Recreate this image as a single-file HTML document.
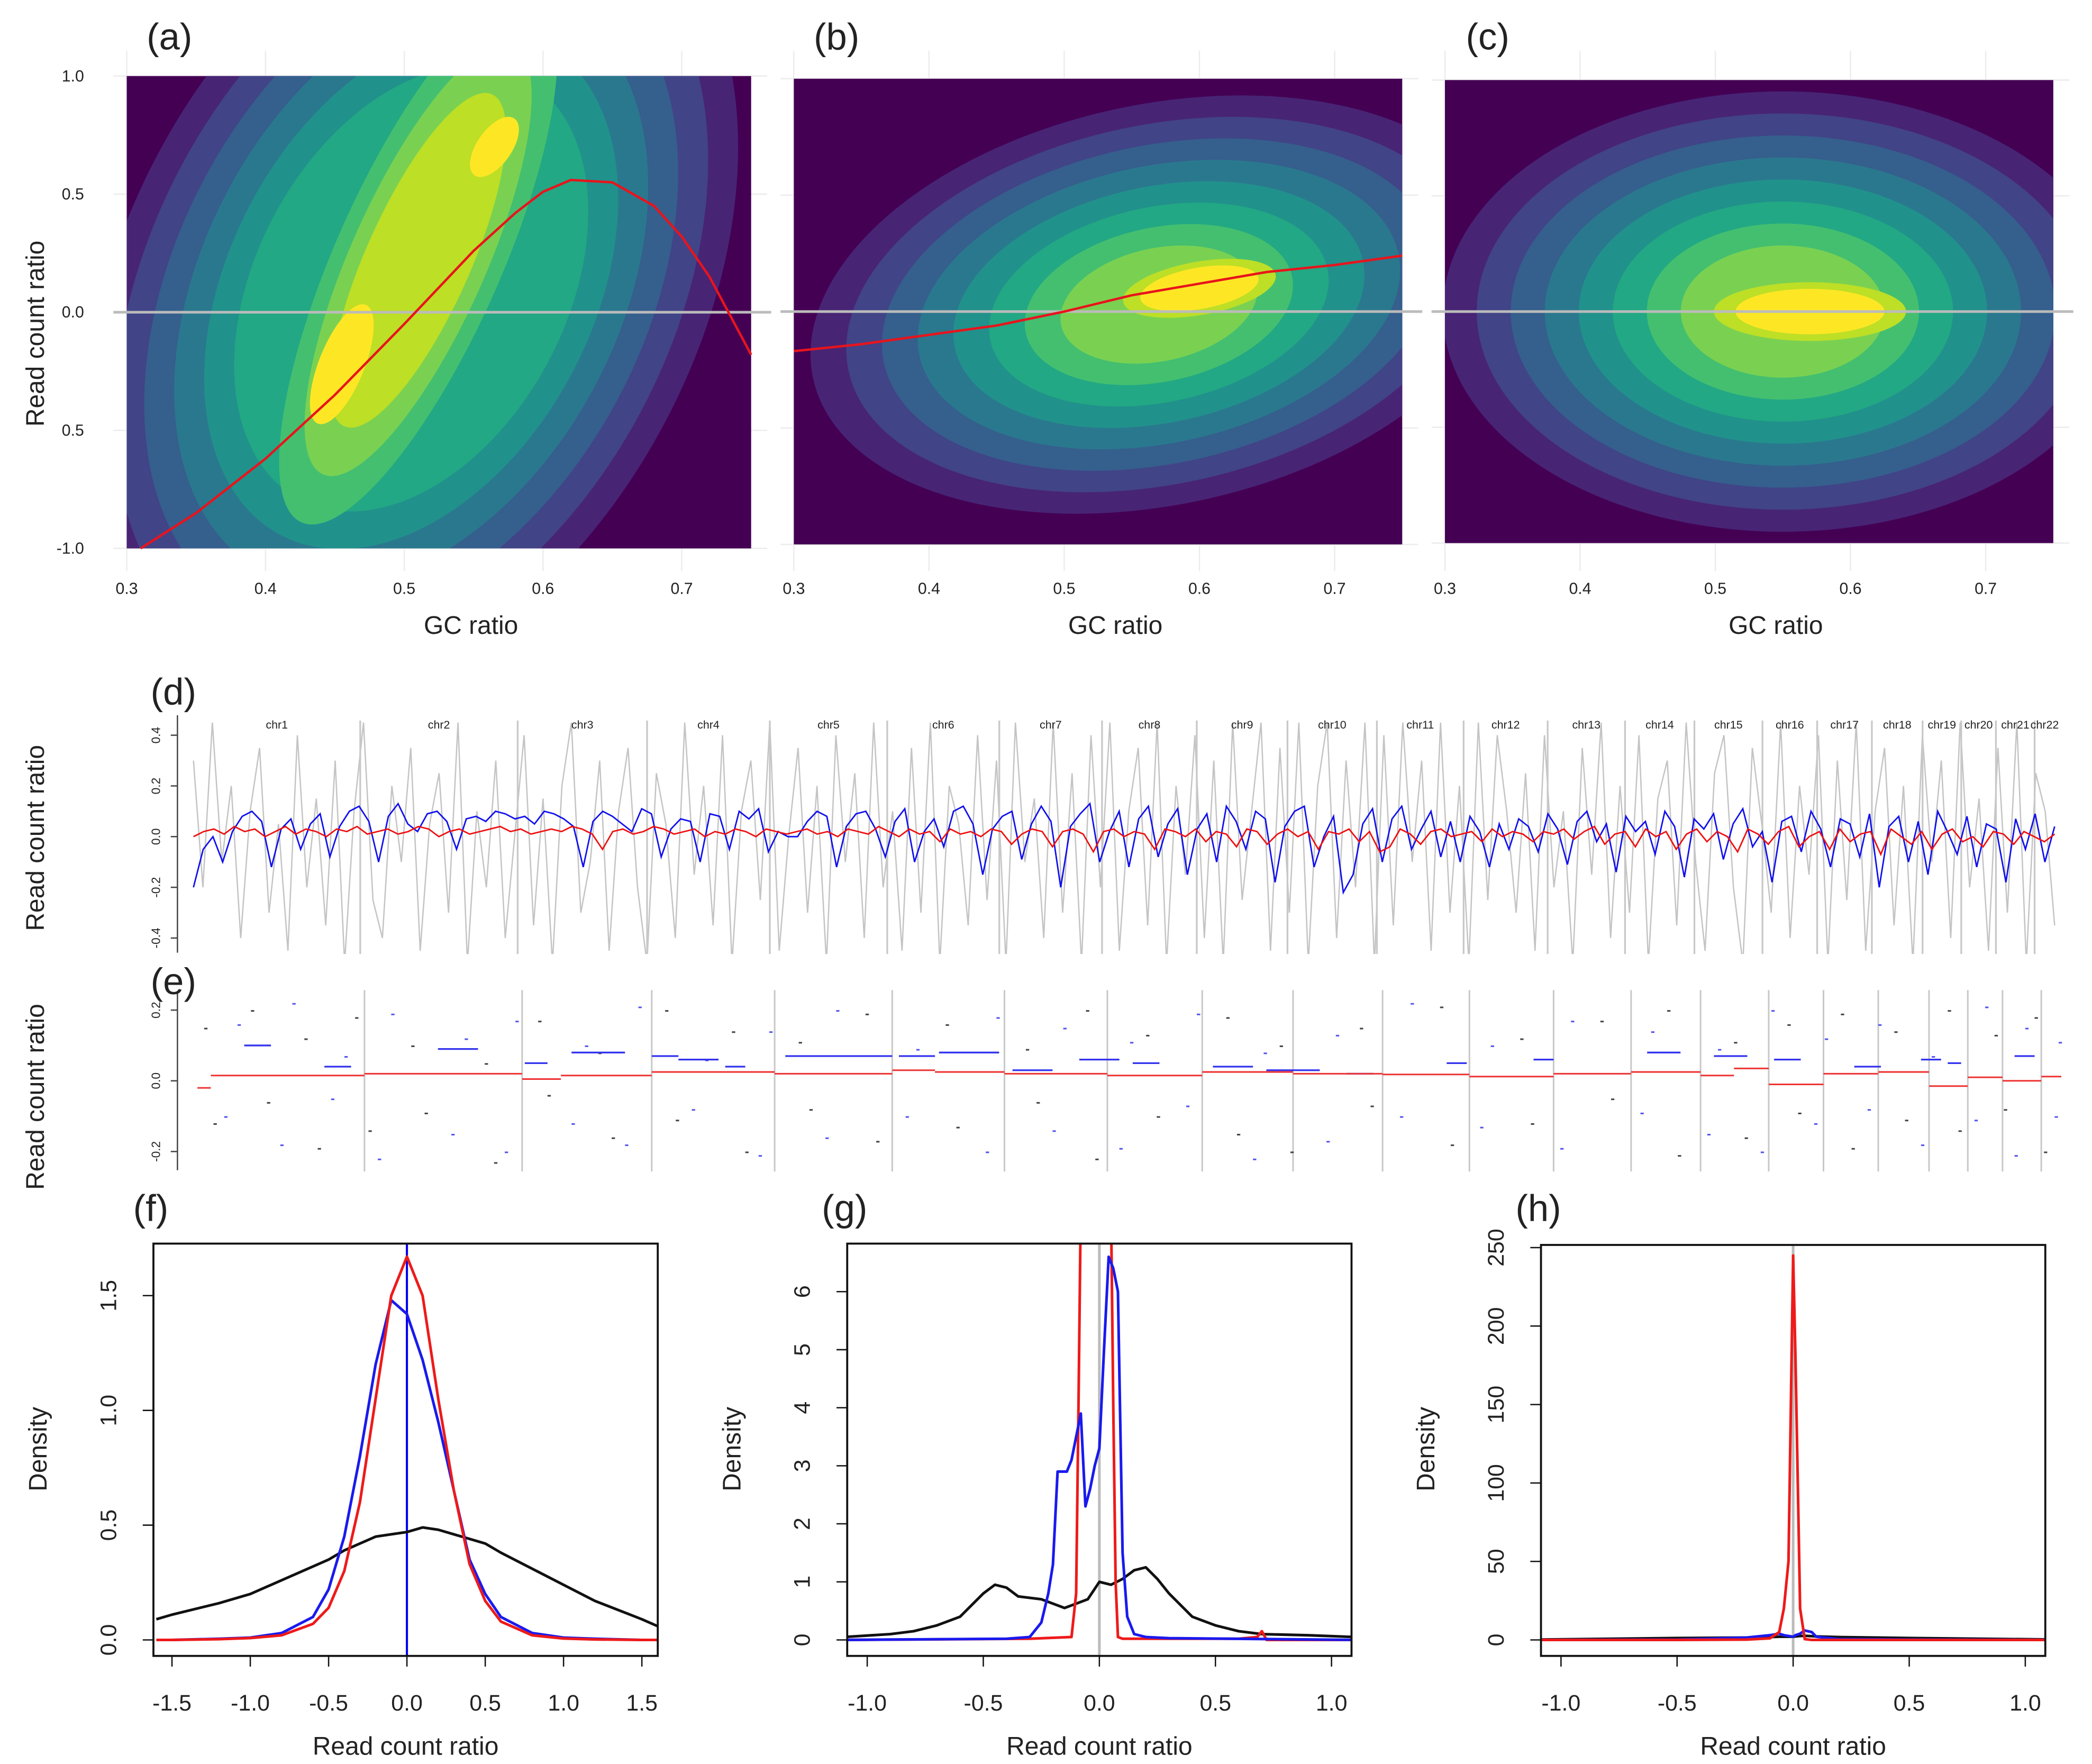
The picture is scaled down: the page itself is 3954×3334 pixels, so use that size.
<!DOCTYPE html>
<html><head><meta charset="utf-8"><style>
html,body{margin:0;padding:0;background:#fff;}
svg{display:block;}
text{font-family:"Liberation Sans",sans-serif;}
</style></head><body>
<svg id="fig" xmlns="http://www.w3.org/2000/svg" width="3954" height="3334" viewBox="0 0 1568 1322" preserveAspectRatio="none">
<defs>
<clipPath id="ca"><rect x="95" y="57" width="468" height="354"/></clipPath>
<clipPath id="cb"><rect x="595" y="59" width="456" height="349"/></clipPath>
<clipPath id="cc"><rect x="1083" y="60" width="456" height="347"/></clipPath>
<clipPath id="cd"><rect x="140" y="535" width="1405" height="180"/></clipPath>
<clipPath id="ce"><rect x="140" y="742" width="1410" height="136"/></clipPath>
<clipPath id="cf"><rect x="115" y="932" width="378" height="309"/></clipPath>
<clipPath id="cg"><rect x="635" y="932" width="378" height="309"/></clipPath>
<clipPath id="ch"><rect x="1155" y="933" width="378" height="308"/></clipPath>
</defs>
<g id="root"></g>
</svg>
<script>
// ---------- DATA ----------
const gcTicks = [0.3,0.4,0.5,0.6,0.7];
const rcTicks = [1.0,0.5,0.0,-0.5,-1.0];
const rcTickLabels = ["1.0","0.5","0.0","0.5","-1.0"];
const fitA_gc = [0.31,0.35,0.40,0.45,0.50,0.55,0.58,0.60,0.62,0.65,0.68,0.70,0.72,0.75];
const fitA_rc = [-1.0,-0.85,-0.62,-0.35,-0.05,0.26,0.42,0.51,0.56,0.55,0.45,0.32,0.15,-0.18];
const fitB_gc = [0.30,0.35,0.40,0.45,0.50,0.55,0.60,0.65,0.70,0.75];
const fitB_rc = [-0.17,-0.14,-0.10,-0.06,0.0,0.07,0.12,0.17,0.20,0.24];
const viridis = ["#482475","#414487","#355f8d","#2a788e","#21918c","#22a884","#44bf70","#7ad151","#bddf26","#fde725"];
const chrNames = ["chr1","chr2","chr3","chr4","chr5","chr6","chr7","chr8","chr9","chr10","chr11","chr12","chr13","chr14","chr15","chr16","chr17","chr18","chr19","chr20","chr21","chr22"];
const chrEnds = [125,243,340,432,520,604,681,752,820,887,952,1015,1073,1125,1176,1217,1258,1296,1325,1351,1380,1395];
const dTicks = [0.4,0.2,0.0,-0.2,-0.4];
const grayTrack = [0.3,-0.2,0.45,-0.1,0.2,-0.4,0.1,0.35,-0.3,0.05,-0.45,0.4,-0.2,0.15,-0.35,0.3,-0.5,0.1,0.45,-0.25,-0.4,0.2,-0.1,0.35,-0.45,0.05,0.25,-0.3,0.45,-0.5,0.1,-0.2,0.3,-0.4,0.0,0.4,-0.35,0.15,-0.5,0.2,0.45,-0.3,-0.1,0.3,-0.45,0.1,0.35,-0.2,-0.5,0.25,0.05,-0.4,0.45,-0.15,0.2,-0.35,0.4,-0.5,0.1,0.3,-0.25,0.45,-0.45,0.0,0.35,-0.3,0.2,-0.5,0.4,-0.1,0.25,-0.4,0.45,-0.2,0.1,-0.45,0.35,-0.3,0.45,-0.5,0.2,0.05,-0.35,0.4,-0.25,0.3,-0.5,0.45,-0.1,0.15,-0.4,0.45,-0.3,0.25,-0.5,0.4,-0.2,0.45,-0.45,0.1,0.35,-0.35,0.45,-0.5,0.2,-0.15,0.4,-0.4,0.3,-0.5,0.45,-0.25,0.1,0.45,-0.45,0.35,-0.3,0.45,-0.5,0.2,0.45,-0.4,0.3,-0.2,0.45,-0.5,0.4,-0.35,0.45,-0.1,0.3,-0.45,0.45,-0.3,0.2,-0.5,0.45,-0.25,0.4,0.1,-0.3,0.25,-0.45,0.4,-0.2,0.1,-0.5,0.35,-0.15,0.45,-0.4,0.2,-0.3,0.4,-0.5,0.15,0.3,-0.35,0.45,-0.1,-0.45,0.25,0.4,-0.2,-0.5,0.35,0.05,-0.3,0.45,-0.4,0.2,-0.15,0.4,-0.5,0.3,-0.25,0.45,-0.45,0.1,0.35,-0.35,0.2,-0.5,0.4,-0.1,0.3,-0.4,0.45,-0.2,0.15,-0.45,0.35,-0.3,0.45,-0.5,0.25,0.1,-0.35];
const blueTrack = [-0.2,-0.05,0.0,-0.1,0.02,0.08,0.1,0.06,-0.12,0.03,0.07,-0.05,0.05,0.09,-0.08,0.04,0.1,0.12,0.06,-0.1,0.08,0.13,0.05,0.02,0.09,0.1,0.06,-0.05,0.07,0.08,0.06,0.1,0.09,0.07,0.08,0.05,0.1,0.09,0.07,0.04,-0.12,0.06,0.1,0.08,0.05,0.02,0.11,0.09,-0.08,0.03,0.07,0.06,-0.1,0.09,0.08,-0.05,0.1,0.07,0.11,-0.06,0.02,0.0,0.0,0.06,0.1,0.08,-0.12,0.04,0.09,0.1,0.03,-0.08,0.06,0.11,-0.1,0.02,0.07,-0.04,0.1,0.12,0.05,-0.15,0.03,0.08,0.1,-0.09,0.05,0.12,0.06,-0.2,0.04,0.09,0.13,-0.1,0.02,0.1,-0.12,0.07,0.12,-0.08,0.05,0.11,-0.15,0.03,0.09,-0.1,0.12,0.06,-0.05,0.1,0.07,-0.18,0.04,0.1,0.12,-0.12,0.0,0.08,-0.22,-0.15,0.05,0.11,-0.1,0.07,0.12,-0.05,0.03,0.1,-0.08,0.06,-0.1,0.08,0.02,-0.12,0.05,-0.05,0.07,0.04,-0.06,0.09,0.03,-0.11,0.06,0.1,-0.02,0.05,-0.14,0.08,0.02,0.06,-0.07,0.1,0.04,-0.16,0.07,0.03,0.09,-0.09,0.05,0.11,-0.04,0.02,-0.18,0.06,0.08,-0.06,0.1,0.03,-0.12,0.07,0.05,-0.08,0.09,-0.2,0.04,0.08,-0.1,0.06,-0.15,0.1,0.02,-0.07,0.08,-0.12,0.05,0.03,-0.18,0.07,-0.05,0.09,-0.1,0.04];
const redTrack = [0.0,0.02,0.03,0.01,0.04,0.02,0.03,0.0,0.02,0.04,0.01,0.03,0.02,0.0,0.03,0.02,0.04,0.01,0.02,0.03,0.01,0.02,0.04,0.03,0.0,0.02,0.03,0.01,0.02,0.03,0.04,0.02,0.03,0.01,0.02,0.03,0.02,0.04,0.03,0.01,-0.05,0.02,0.03,0.01,0.02,0.04,0.03,0.01,0.02,0.03,0.0,0.02,0.01,0.03,0.02,0.0,0.03,0.02,0.01,0.02,0.03,0.01,0.02,0.0,0.03,0.02,0.01,0.04,0.02,0.0,0.03,0.01,0.02,-0.02,0.03,0.01,0.02,0.0,0.03,0.02,-0.03,0.01,0.03,0.02,-0.04,0.02,0.03,0.01,-0.06,0.02,0.03,0.0,0.02,0.01,-0.05,0.03,0.02,0.0,0.03,-0.02,0.02,0.01,-0.04,0.03,0.02,-0.03,0.01,0.03,0.0,0.02,-0.05,0.02,0.01,0.03,-0.02,0.02,-0.06,-0.04,0.03,0.01,-0.03,0.02,0.03,0.0,0.01,0.02,-0.02,0.03,0.0,0.02,0.01,-0.02,0.02,0.01,0.03,-0.01,0.02,0.04,-0.03,0.01,0.02,-0.04,0.03,0.0,0.02,-0.05,0.01,0.03,-0.02,0.02,0.0,-0.06,0.03,0.01,-0.03,0.02,0.04,-0.04,0.0,0.02,-0.05,0.03,-0.02,0.01,0.02,-0.07,0.03,0.0,-0.03,0.02,-0.05,0.01,0.03,-0.02,0.0,-0.04,0.02,0.01,-0.03,0.02,0.0,-0.02,0.01];
const eTicks = [0.2,0.0,-0.2];
const eRedStart = [0,10,125,243,272,340,432,520,552,604,681,752,820,887,952,1015,1073,1125,1150,1176,1217,1258,1296,1325,1351,1380];
const eRedEnd   = [10,125,243,272,340,432,520,552,604,681,752,820,887,952,1015,1073,1125,1150,1176,1217,1258,1296,1325,1351,1380,1395];
const eRedVal   = [-0.02,0.015,0.02,0.005,0.015,0.025,0.02,0.03,0.025,0.02,0.015,0.025,0.02,0.018,0.012,0.02,0.025,0.015,0.035,-0.01,0.02,0.025,-0.015,0.01,0.0,0.012];
const eBlueStart = [35,95,180,245,280,340,360,395,440,525,555,610,660,700,760,800,860,935,1000,1085,1135,1180,1240,1290,1310,1360];
const eBlueEnd   = [55,115,210,262,320,360,390,410,520,552,600,640,690,720,790,840,880,950,1015,1110,1160,1200,1260,1305,1320,1375];
const eBlueVal   = [0.1,0.04,0.09,0.05,0.08,0.07,0.06,0.04,0.07,0.07,0.08,0.03,0.06,0.05,0.04,0.03,0.02,0.05,0.06,0.08,0.07,0.06,0.04,0.06,0.05,0.07];
const eDotPos = [5,20,40,62,80,100,118,135,160,190,215,230,255,280,300,320,350,370,400,420,450,470,500,530,560,590,620,640,665,690,710,740,770,790,810,845,870,900,930,960,990,1020,1050,1080,1100,1130,1150,1170,1190,1210,1230,1250,1270,1290,1310,1330,1345,1360,1375,1390,12,30,52,71,90,110,128,145,170,200,222,238,262,290,310,330,358,380,410,428,458,478,508,538,568,598,628,648,672,698,718,748,778,798,818,852,878,908,938,968,998,1028,1058,1088,1108,1138,1158,1178,1198,1218,1238,1258,1278,1298,1318,1338,1352,1368,1382,1393];
const eDotVal = [0.15,-0.1,0.2,-0.18,0.12,-0.05,0.18,-0.22,0.1,-0.15,0.05,-0.2,0.17,-0.12,0.08,-0.18,0.2,-0.08,0.14,-0.21,0.11,-0.16,0.19,-0.1,0.16,-0.2,0.09,-0.14,0.2,-0.19,0.13,-0.07,0.18,-0.22,0.1,-0.17,0.15,-0.1,0.21,-0.13,0.12,-0.19,0.17,-0.09,0.2,-0.15,0.11,-0.2,0.16,-0.12,0.19,-0.08,0.14,-0.18,0.2,-0.11,0.13,-0.21,0.18,-0.1,-0.12,0.16,-0.06,0.22,-0.19,0.07,-0.14,0.19,-0.09,0.12,-0.23,0.17,-0.04,0.1,-0.16,0.21,-0.11,0.06,-0.2,0.14,-0.08,0.2,-0.17,0.09,-0.13,0.18,-0.06,0.15,-0.22,0.11,-0.1,0.19,-0.15,0.08,-0.2,0.13,-0.07,0.22,-0.18,0.1,-0.12,0.17,-0.05,0.14,-0.21,0.09,-0.16,0.2,-0.09,0.12,-0.19,0.16,-0.11,0.07,-0.14,0.21,-0.08,0.15,-0.2,0.11];
// density f
const fX = [-1.6,-1.5,-1.2,-1.0,-0.8,-0.6,-0.5,-0.4,-0.3,-0.2,-0.1,0.0,0.1,0.2,0.3,0.4,0.5,0.6,0.8,1.0,1.2,1.5,1.6];
const fBlack = [0.09,0.11,0.16,0.2,0.26,0.32,0.35,0.39,0.42,0.45,0.46,0.47,0.49,0.48,0.46,0.44,0.42,0.38,0.31,0.24,0.17,0.09,0.06];
const fBlue = [0.0,0.0,0.005,0.01,0.03,0.1,0.22,0.45,0.8,1.2,1.48,1.42,1.22,0.95,0.65,0.35,0.2,0.1,0.03,0.01,0.005,0.0,0.0];
const fRed = [0.0,0.0,0.003,0.008,0.02,0.07,0.14,0.3,0.6,1.05,1.5,1.67,1.5,1.05,0.65,0.33,0.17,0.08,0.02,0.006,0.002,0.0,0.0];
const fXTicks = [-1.5,-1.0,-0.5,0.0,0.5,1.0,1.5];
const fYTicks = [0.0,0.5,1.0,1.5];
// density g
const gBlackX = [-1.1,-0.9,-0.8,-0.7,-0.6,-0.5,-0.45,-0.4,-0.35,-0.25,-0.15,-0.05,0.0,0.05,0.1,0.15,0.2,0.25,0.3,0.4,0.5,0.6,0.7,0.9,1.1];
const gBlackY = [0.05,0.1,0.15,0.25,0.4,0.8,0.95,0.9,0.75,0.7,0.55,0.7,1.0,0.95,1.05,1.2,1.25,1.05,0.8,0.4,0.25,0.15,0.1,0.08,0.05];
const gRedX = [-1.1,-0.3,-0.12,-0.1,-0.09,-0.08,0.05,0.06,0.07,0.08,0.1,0.6,0.68,0.7,0.72,1.1];
const gRedY = [0.0,0.02,0.05,0.8,4.0,7.5,7.5,4.0,1.0,0.05,0.02,0.02,0.05,0.15,0.0,0.0];
const gBlueX = [-1.1,-0.4,-0.3,-0.25,-0.22,-0.2,-0.18,-0.14,-0.12,-0.1,-0.08,-0.06,-0.04,-0.02,0.0,0.02,0.04,0.06,0.08,0.1,0.12,0.15,0.2,0.3,1.1];
const gBlueY = [0.0,0.02,0.05,0.3,0.8,1.3,2.9,2.9,3.1,3.5,3.9,2.3,2.6,3.0,3.3,5.0,6.6,6.4,6.0,1.5,0.4,0.1,0.05,0.03,0.0];
const gXTicks = [-1.0,-0.5,0.0,0.5,1.0];
const gYTicks = [0,1,2,3,4,5,6];
// density h
const hX = [-1.1,-0.5,-0.2,-0.1,-0.06,-0.04,-0.02,0.0,0.01,0.03,0.05,0.08,0.1,0.2,0.5,1.1];
const hRed = [0,0,0.2,1,5,20,50,245,180,20,0.5,0,0,0,0,0];
const hBlue = [0,0.2,1.5,3,4,3,2.5,2,3,4,6,5,2,0.5,0.2,0];
const hBlack = [0.2,1.2,1.5,1.8,2,2,2,2,2.2,2.5,2.6,2.4,2.2,1.8,1.2,0.3];
const hXTicks = [-1.0,-0.5,0.0,0.5,1.0];
const hYTicks = [0,50,100,150,200,250];

// ---------- HELPERS ----------
const NS="http://www.w3.org/2000/svg";
const root=document.getElementById('root');
function mk(tag,attrs,parent){const e=document.createElementNS(NS,tag);for(const k in attrs)e.setAttribute(k,attrs[k]);(parent||root).appendChild(e);return e;}
function txt(s,x,y,size,anchor,rot,parent){const t=mk('text',{x:x,y:y,'font-size':size,'text-anchor':anchor||'middle',fill:'#222'},parent);if(rot)t.setAttribute('transform','rotate('+rot+' '+x+' '+y+')');t.textContent=s;return t;}
function lin(d0,d1,r0,r1){return v=>r0+(v-d0)*(r1-r0)/(d1-d0);}
function pathFrom(xs,ys,sx,sy){return xs.map((v,i)=>(i?'L':'M')+sx(v).toFixed(2)+' '+sy(ys[i]).toFixed(2)).join(' ');}

// ---------- PANELS a-c ----------
function densityPanel(id,label,rect,xr,clip,blobs,fitX,fitY,labX){
  const g=mk('g',{});
  
  
  const sx=lin(xr[0],xr[1],rect[0],rect[0]+rect[2]);
  const sy=lin(1,-1,rect[1],rect[1]+rect[3]);
  gcTicks.forEach(v=>{const l=mk('line',{x1:sx(v),x2:sx(v),y1:38,y2:428,stroke:'#ececec','stroke-width':1},g);
    });
  [1,0.5,0,-0.5,-1].forEach(v=>{const l=mk('line',{x1:rect[0]-10,x2:rect[0]+rect[2]+12,y1:sy(v),y2:sy(v),stroke:'#ececec','stroke-width':1},g);
    });
  const bg=mk('rect',{x:rect[0],y:rect[1],width:rect[2],height:rect[3],fill:'#440154'},g);
  
  const cg=mk('g',{'clip-path':'url(#'+clip+')'},g);
  blobs.forEach(b=>{
    const cnt=b.to-b.from+1;
    for(let k=0;k<cnt;k++){const f=1-k/cnt*b.shrink;const c=viridis[b.from+k];
      const e=mk('ellipse',{cx:sx(b.x),cy:sy(b.y),rx:b.rx*f,ry:b.ry*f,fill:c,transform:'rotate('+b.rot+' '+sx(b.x)+' '+sy(b.y)+')'},cg);
      }
  });
  const h=mk('line',{x1:rect[0]-10,x2:rect[0]+rect[2]+15,y1:sy(0),y2:sy(0),stroke:'#bbbbbb','stroke-width':2},g);
  
  if(fitX){const p=mk('path',{d:pathFrom(fitX,fitY,sx,sy),fill:'none',stroke:'#e8141c','stroke-width':1.8,'stroke-linejoin':'round'},g);
    }
  gcTicks.forEach(v=>{const t=txt(v.toFixed(1),sx(v),445,12,'middle',0,g);});
  const xt=txt('GC ratio',labX,475,19,'middle',0,g);
  const pl=txt(label,rect[0]+32,37,28,'middle',0,g);
  return {g,sx,sy};
}
const A=densityPanel('a','(a)',[95,57,468,354],[0.3,0.75],'ca',
  [{x:0.505,y:0.1,rx:330,ry:215,rot:-62,from:0,to:5,shrink:0.55},
   {x:0.51,y:0.22,rx:215,ry:62,rot:-66,from:6,to:8,shrink:0.55},
   {x:0.455,y:-0.22,rx:48,ry:17,rot:-68,from:9,to:9,shrink:0},
   {x:0.565,y:0.7,rx:26,ry:13,rot:-55,from:9,to:9,shrink:0}],fitA_gc,fitA_rc,353);
rcTicks.forEach((v,i)=>{const t=txt(rcTickLabels[i],63,A.sy(v)+4,12,'end',0,A.g);});
const ya=txt('Read count ratio',33,250,19,'middle',-90);
const B=densityPanel('b','(b)',[595,59,456,349],[0.3,0.75],'cb',
  [{x:0.57,y:0.03,rx:265,ry:150,rot:-12,from:0,to:7,shrink:0.82},
   {x:0.6,y:0.1,rx:58,ry:20,rot:-10,from:8,to:9,shrink:0.45}],fitB_gc,fitB_rc,836);
const C=densityPanel('c','(c)',[1083,60,456,347],[0.3,0.75],'cc',
  [{x:0.55,y:0.0,rx:255,ry:165,rot:0,from:0,to:7,shrink:0.8},
   {x:0.57,y:0.0,rx:72,ry:22,rot:0,from:8,to:9,shrink:0.45}],null,null,1331);

// ---------- PANEL d ----------
(function(){
  const g=mk('g',{});
  
  
  const gx=lin(0,1395,145,1540), sy=lin(0,-0.2,627,665);
  const ax=mk('line',{x1:133,x2:133,y1:536,y2:714,stroke:'#444'},g);
  dTicks.forEach(v=>{const tk=mk('line',{x1:128,x2:133,y1:sy(v),y2:sy(v),stroke:'#444'},g);
    const t=txt(v.toFixed(1),120,sy(v),9,'middle',-90,g);});
  const cg=mk('g',{'clip-path':'url(#cd)'},g);
  const n=grayTrack.length;const xs=grayTrack.map((_,i)=>i*1395/(n-1));
  const pg=mk('path',{d:pathFrom(xs,grayTrack,gx,sy),fill:'none',stroke:'#c4c4c4','stroke-width':1},cg);
  chrEnds.slice(0,-1).forEach(v=>{const l=mk('line',{x1:gx(v),x2:gx(v),y1:540,y2:715,stroke:'#c8c8c8','stroke-width':1.3},cg);});
  const nb=blueTrack.length;const xb=blueTrack.map((_,i)=>i*1395/(nb-1));
  const pb=mk('path',{d:pathFrom(xb,blueTrack,gx,sy),fill:'none',stroke:'#1010ee','stroke-width':1.1},cg);
  const nr=redTrack.length;const xr=redTrack.map((_,i)=>i*1395/(nr-1));
  const pr=mk('path',{d:pathFrom(xr,redTrack,gx,sy),fill:'none',stroke:'#ee1010','stroke-width':1.1},cg);
  chrNames.forEach((c,i)=>{const s=i?chrEnds[i-1]:0;const t=txt(c,gx((s+chrEnds[i])/2),546,8.5,'middle',0,g);});
  const pl=txt('(d)',130,528,28,'middle');
  const yt=txt('Read count ratio',33,628,19,'middle',-90);
})();

// ---------- PANEL e ----------
(function(){
  const g=mk('g',{});
  
  
  const gx=lin(0,1395,148,1545), sy=lin(0,0.2,810,757);
  const ax=mk('line',{x1:133,x2:133,y1:743,y2:877,stroke:'#444'},g);
  eTicks.forEach(v=>{const tk=mk('line',{x1:128,x2:133,y1:sy(v),y2:sy(v),stroke:'#444'},g);
    const t=txt(v.toFixed(1),120,sy(v),9,'middle',-90,g);});
  const cg=mk('g',{'clip-path':'url(#ce)'},g);
  chrEnds.slice(0,-1).forEach(v=>{const l=mk('line',{x1:gx(v),x2:gx(v),y1:742,y2:878,stroke:'#c8c8c8','stroke-width':1.2},cg);});
  eDotPos.forEach((p,i)=>{const d=mk('rect',{x:gx(p),y:sy(eDotVal[i]),width:2.5,height:1.2,fill:i%2?'#5555ee':'#444'},cg);});
  eBlueStart.forEach((s,i)=>{const l=mk('line',{x1:gx(s),x2:gx(eBlueEnd[i]),y1:sy(eBlueVal[i]),y2:sy(eBlueVal[i]),stroke:'#3333ee','stroke-width':1.3},cg);});
  eRedStart.forEach((s,i)=>{const l=mk('line',{x1:gx(s),x2:gx(eRedEnd[i]),y1:sy(eRedVal[i]),y2:sy(eRedVal[i]),stroke:'#ee3333','stroke-width':1.2},cg);});
  const pl=txt('(e)',130,745,28,'middle');
  const yt=txt('Read count ratio',33,822,19,'middle',-90);
})();

// ---------- PANELS f-h ----------
function distPanel(id,label,box,xd,yd,clip,xt,yt,ytLab,series,vcol){
  const g=mk('g',{});
  
  
  const sx=lin(xd[0],xd[1],xd[2],xd[3]), sy=lin(yd[0],yd[1],yd[2],yd[3]);
  const cg=mk('g',{'clip-path':'url(#'+clip+')'},g);
  const vl=mk('line',{x1:sx(0),x2:sx(0),y1:box[1],y2:box[1]+box[3],stroke:vcol,'stroke-width':vcol==='#0000ee'?1.6:2},cg);
  series.forEach(s=>{const p=mk('path',{d:pathFrom(s.x,s.y,sx,sy),fill:'none',stroke:s.c,'stroke-width':2,'stroke-linejoin':'round'},cg);});
  const r=mk('rect',{x:box[0],y:box[1],width:box[2],height:box[3],fill:'none',stroke:'#111','stroke-width':1.5},g);
  xt.forEach(v=>{const tk=mk('line',{x1:sx(v),x2:sx(v),y1:box[1]+box[3],y2:box[1]+box[3]+8,stroke:'#111'},g);
    const t=txt(v.toFixed(1),sx(v),box[1]+box[3]+41,17,'middle',0,g);});
  yt.forEach(v=>{const tk=mk('line',{x1:box[0]-8,x2:box[0],y1:sy(v),y2:sy(v),stroke:'#111'},g);
    const t=txt(ytLab(v),box[0]-28,sy(v),17,'middle',-90,g);});
  const xa=txt('Read count ratio',box[0]+box[2]/2,1315,19,'middle',0,g);
  const ya=txt('Density',box[0]-80,1086,19,'middle',-90,g);
  const pl=txt(label,box[0]-2,915,28,'middle',0,g);
}
distPanel('f','(f)',[115,932,378,309],[0,0.5,305,363.7],[0,0.5,1229,1143],'cf',fXTicks,fYTicks,v=>v.toFixed(1),
  [{n:'black',x:fX,y:fBlack,c:'#111'},{n:'blue',x:fX,y:fBlue,c:'#1a1aee'},{n:'red',x:fX,y:fRed,c:'#ee1a1a'}],'#0000ee');
distPanel('g','(g)',[635,932,378,309],[0,0.5,824,911],[0,1,1229,1185.5],'cg',gXTicks,gYTicks,v=>String(v),
  [{n:'black',x:gBlackX,y:gBlackY,c:'#111'},{n:'red',x:gRedX,y:gRedY,c:'#ee1a1a'},{n:'blue',x:gBlueX,y:gBlueY,c:'#1a1aee'}],'#bbbbbb');
distPanel('h','(h)',[1155,933,378,308],[0,0.5,1344,1431],[0,50,1229,1170.2],'ch',hXTicks,hYTicks,v=>String(v),
  [{n:'black',x:hX,y:hBlack,c:'#111'},{n:'blue',x:hX,y:hBlue,c:'#1a1aee'},{n:'red',x:hX,y:hRed,c:'#ee1a1a'}],'#bbbbbb');
</script>
</body></html>
